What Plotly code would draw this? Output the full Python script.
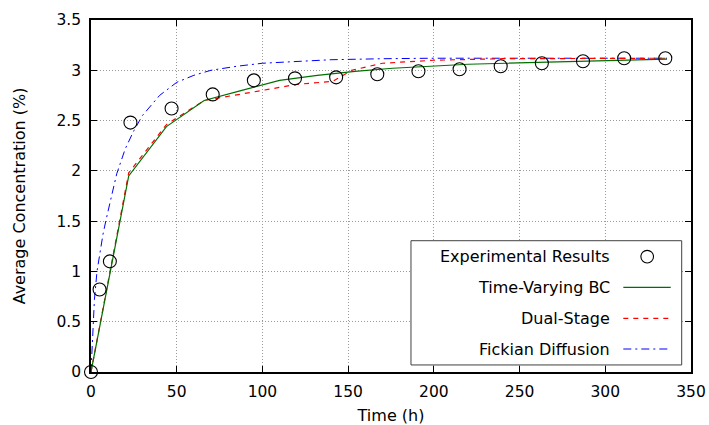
import plotly.graph_objects as go

# Experimental results
exp_t = [0, 5, 11, 23, 47, 71, 95, 119, 143, 167, 191, 215, 239, 263, 287, 311, 335]
exp_c = [0, 0.82, 1.10, 2.48, 2.62, 2.76, 2.90, 2.92, 2.93, 2.96, 2.99, 3.01, 3.04, 3.07, 3.09, 3.12, 3.12]

# Time-Varying BC
tv_t = [0, 22, 44, 66, 88, 110, 132, 154, 176, 198, 220, 242, 264, 286, 308, 336]
tv_c = [0, 1.95, 2.44, 2.70, 2.80, 2.90, 2.95, 2.99, 3.02, 3.04, 3.06, 3.07, 3.08, 3.09, 3.10, 3.11]

# Dual-Stage
ds_t = [0, 22, 44, 66, 100, 120, 141, 152, 170, 200, 240, 280, 336]
ds_c = [0, 1.98, 2.46, 2.70, 2.80, 2.86, 2.89, 3.00, 3.07, 3.10, 3.115, 3.12, 3.12]

# Fickian Diffusion
fd_t = [0, 1, 2, 3.5, 5, 7, 9, 12, 15, 20, 25, 30, 40, 50, 60, 70, 85, 100, 120, 140, 170, 200, 250, 300, 336]
fd_c = [0, 0.45, 0.72, 1.0, 1.17, 1.37, 1.53, 1.75, 1.97, 2.22, 2.40, 2.55, 2.75, 2.88, 2.95, 3.00, 3.04, 3.07, 3.09, 3.105, 3.115, 3.12, 3.12, 3.12, 3.12]

legend_labels = ["Experimental Results", "Time-Varying BC", "Dual-Stage", "Fickian Diffusion"]
x_ticks = [0, 50, 100, 150, 200, 250, 300, 350]
y_ticks = [0, 0.5, 1, 1.5, 2, 2.5, 3, 3.5]
y_tick_text = ["0", "0.5", "1", "1.5", "2", "2.5", "3", "3.5"]

FONT = "DejaVu Sans"
GREEN = "#006f00"
RED = "#ff0000"
BLUE = "#0000ff"
TXT = 16
TICK = 15.5

fig = go.Figure()
fig.add_trace(go.Scatter(x=fd_t, y=fd_c, mode="lines", name=legend_labels[3],
                         line=dict(color=BLUE, width=1, dash="8px,4px,2px,4px")))
fig.add_trace(go.Scatter(x=ds_t, y=ds_c, mode="lines", name=legend_labels[2],
                         line=dict(color=RED, width=1.2, dash="5px,5px")))
fig.add_trace(go.Scatter(x=tv_t, y=tv_c, mode="lines", name=legend_labels[1],
                         line=dict(color=GREEN, width=1.2)))
fig.add_trace(go.Scatter(x=exp_t, y=exp_c, mode="markers", name=legend_labels[0],
                         marker=dict(symbol="circle-open", size=13, color="black",
                                     line=dict(width=1.1, color="black")),
                         cliponaxis=False))

# Custom gnuplot-style legend (text then sample)
box = dict(x0=0.5333, x1=0.9845, y0=0.02, y1=0.373)
fig.add_shape(type="rect", xref="paper", yref="paper", **box,
              line=dict(color="#404040", width=1), fillcolor="white", layer="above")
rows = [0.3276, 0.2406, 0.1526, 0.0653]
for lab, yy in zip(legend_labels, rows):
    fig.add_annotation(x=0.8688, y=yy, xref="paper", yref="paper", text=lab,
                       showarrow=False, xanchor="right", yanchor="middle",
                       font=dict(family=FONT, size=TXT, color="black"))
# circle sample
fig.add_shape(type="circle", xref="paper", yref="paper",
              x0=0.927 - 0.0105, x1=0.927 + 0.0105, y0=rows[0] - 0.018, y1=rows[0] + 0.018,
              line=dict(color="black", width=1.1), layer="above")
for yy, col, dash, w in [(rows[1], GREEN, "solid", 1.2), (rows[2], RED, "5px,5px", 1.2),
                         (rows[3], BLUE, "8px,4px,2px,4px", 1)]:
    fig.add_shape(type="line", xref="paper", yref="paper", x0=0.8872, x1=0.9662, y0=yy, y1=yy,
                  line=dict(color=col, width=w, dash=dash), layer="above")

axis_common = dict(showgrid=True, gridcolor="#9a9a9a", griddash="1px,2px", gridwidth=1,
                   showline=True, linecolor="black", linewidth=1.5, mirror="ticks",
                   ticks="inside", ticklen=6, tickcolor="black", tickwidth=1.2,
                   zeroline=False, tickfont=dict(family=FONT, size=TICK, color="black"),
                   ticklabelstandoff=5, automargin=False)

fig.update_xaxes(range=[0, 350], tickvals=x_ticks, ticktext=[str(v) for v in x_ticks],
                 title=dict(text="Time (h)", font=dict(family=FONT, size=TXT, color="black"), standoff=9),
                 **axis_common)
fig.update_yaxes(range=[0, 3.5], tickvals=y_ticks, ticktext=y_tick_text,
                 title=dict(text="Average Concentration (%)", font=dict(family=FONT, size=TXT, color="black"), standoff=27),
                 **axis_common)

fig.update_layout(width=709, height=425, margin=dict(l=91, r=18, t=20, b=53, autoexpand=False),
                  paper_bgcolor="white", plot_bgcolor="white", showlegend=False,
                  font=dict(family=FONT, size=TXT, color="black"))

fig.write_html("out.html")
